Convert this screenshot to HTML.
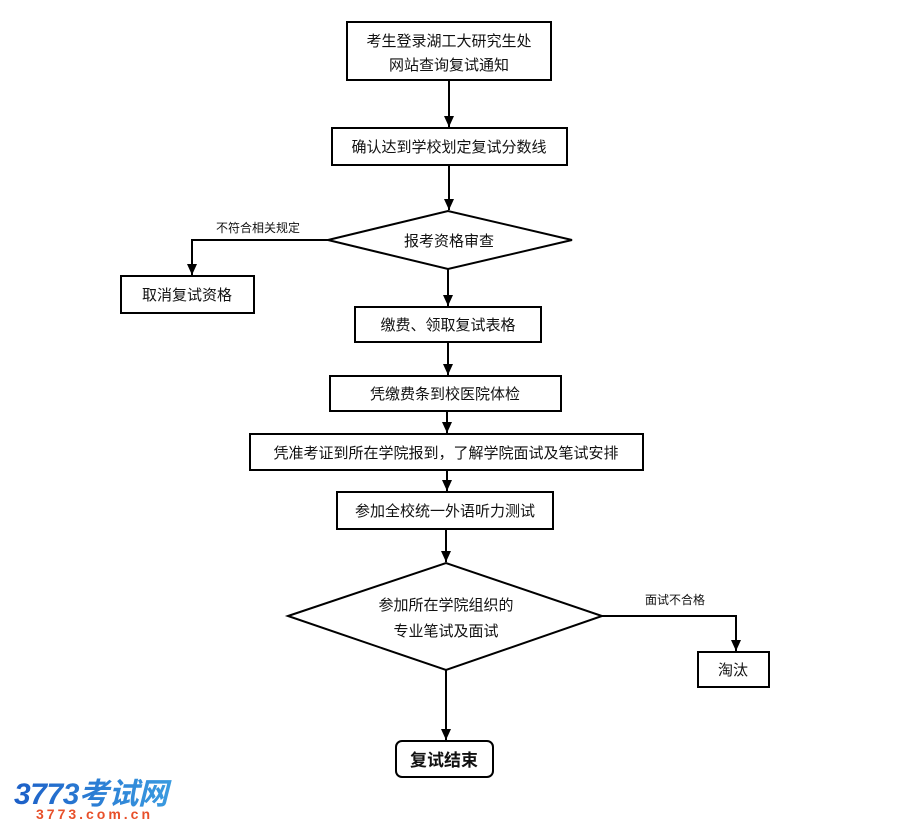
<!DOCTYPE html>
<html><head><meta charset="utf-8"><style>
html,body{margin:0;padding:0;background:#fff;}
svg{display:block;}
text{font-family:"Liberation Sans","Noto Sans CJK SC",sans-serif;fill:#111;}
</style></head><body>
<svg width="900" height="838" viewBox="0 0 900 838" xmlns="http://www.w3.org/2000/svg">
<defs>
<marker id="a" markerWidth="12" markerHeight="12" refX="11" refY="5" orient="auto" markerUnits="userSpaceOnUse">
<path d="M0,0 L11,5 L0,10 Z" fill="#000"/>
</marker>
<linearGradient id="g" x1="0" y1="0" x2="1" y2="0"><stop offset="0" stop-color="#1c5fc7"/><stop offset="1" stop-color="#3a9be0"/></linearGradient>
</defs>
<g stroke="#000" stroke-width="2" fill="#fff">
<rect x="347" y="22" width="204" height="58"/>
<rect x="332" y="128" width="235" height="37"/>
<polygon points="328,240 448,211 572,240 448,269"/>
<rect x="121" y="276" width="133" height="37"/>
<rect x="355" y="307" width="186" height="35"/>
<rect x="330" y="376" width="231" height="35"/>
<rect x="250" y="434" width="393" height="36"/>
<rect x="337" y="492" width="216" height="37"/>
<polygon points="288,616 446,563 602,616 446,670"/>
<rect x="698" y="652" width="71" height="35"/>
<rect x="396" y="741" width="97" height="36" rx="6"/>
</g>
<g stroke="#000" stroke-width="2" fill="none" marker-end="url(#a)">
<line x1="449" y1="80" x2="449" y2="127"/>
<line x1="449" y1="165" x2="449" y2="210"/>
<polyline points="328,240 192,240 192,275"/>
<line x1="448" y1="269" x2="448" y2="306"/>
<line x1="448" y1="342" x2="448" y2="375"/>
<line x1="447" y1="411" x2="447" y2="433"/>
<line x1="447" y1="470" x2="447" y2="491"/>
<line x1="446" y1="529" x2="446" y2="562"/>
<polyline points="602,616 736,616 736,651"/>
<line x1="446" y1="670" x2="446" y2="740"/>
</g>
<g font-size="15" text-anchor="middle">
<text x="449" y="46">考生登录湖工大研究生处</text>
<text x="449" y="70">网站查询复试通知</text>
<text x="449" y="152">确认达到学校划定复试分数线</text>
<text x="449" y="246">报考资格审查</text>
<text x="187" y="300">取消复试资格</text>
<text x="448" y="330">缴费、领取复试表格</text>
<text x="445" y="399">凭缴费条到校医院体检</text>
<text x="446" y="458">凭准考证到所在学院报到，了解学院面试及笔试安排</text>
<text x="445" y="516">参加全校统一外语听力测试</text>
<text x="446" y="610">参加所在学院组织的</text>
<text x="446" y="636">专业笔试及面试</text>
<text x="733" y="675">淘汰</text>
<text x="444" y="766" font-weight="bold" font-size="17">复试结束</text>
</g>
<g font-size="12" text-anchor="middle">
<text x="258" y="232">不符合相关规定</text>
<text x="675" y="604">面试不合格</text>
</g>
<text x="14" y="804" font-size="30" font-weight="bold" font-style="italic" style="fill:url(#g)" textLength="154">3773考试网</text>
<text x="36" y="819" font-size="14" font-weight="bold" style="fill:#e8502a" textLength="114">3773.com.cn</text>
</svg>
</body></html>
